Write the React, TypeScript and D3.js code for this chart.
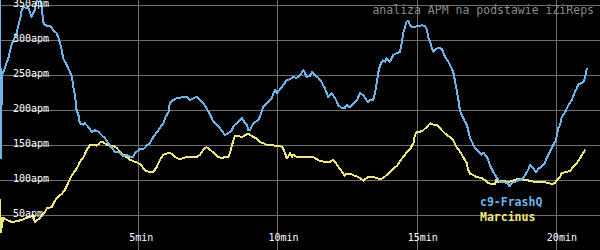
import React from "react";
import * as d3 from "d3";

// time in seconds, values in APM
const blueName = "c9-FrashQ";
const blueTime = [0, 2, 4, 9, 14, 18, 22, 25, 29, 32, 36, 39, 43, 47, 50, 58, 61, 65, 68, 72, 75, 78, 82, 86, 90, 93, 97, 108, 115, 122, 126, 129, 133, 136, 140, 144, 151, 155, 158, 162, 165, 169, 172, 180, 183, 190, 198, 205, 212, 219, 226, 233, 241, 248, 259, 266, 273, 280, 287, 291, 296, 302, 309, 316, 323, 330, 341, 352, 356, 363, 366, 373, 381, 402, 409, 417, 424, 431, 438, 445, 453, 460, 467, 474, 485, 492, 499, 503, 506, 514, 521, 524, 528, 532, 535, 539, 542, 546, 550, 557, 560, 567, 575, 582, 586, 589, 593, 596, 603, 611, 618, 625, 632, 639, 647, 654, 657, 661, 668, 672, 679, 686, 693, 700, 707, 715, 722, 729, 736, 743, 747, 754, 761, 769, 776, 783, 790, 794, 797, 804, 808, 812, 815, 819, 825, 830, 833, 837, 840, 844, 848, 855, 862, 866, 869, 873, 876, 880, 884, 887, 894, 901, 909, 916, 920, 923, 927, 930, 934, 937, 945, 952, 955, 959, 966, 973, 977, 981, 984, 988, 991, 995, 998, 1002, 1006, 1009, 1013, 1020, 1027, 1034, 1038, 1042, 1049, 1052, 1056, 1063, 1070, 1078, 1085, 1092, 1098, 1103, 1110, 1117, 1124, 1128, 1138, 1142, 1149, 1155, 1160, 1167, 1174, 1178, 1185, 1192, 1198, 1203, 1207, 1210, 1218, 1225, 1232, 1239, 1243, 1246, 1254, 1257, 1261, 1264, 1266];
const blueApm = [420, 131, 250, 257, 267, 274, 286, 293, 300, 304, 310, 319, 329, 343, 347, 346, 347, 339, 333, 339, 343, 353, 361, 361, 346, 326, 321, 320, 314, 310, 303, 296, 286, 274, 269, 264, 254, 247, 233, 219, 200, 193, 181, 179, 181, 176, 169, 171, 169, 164, 160, 153, 146, 140, 139, 134, 136, 133, 133, 139, 141, 144, 144, 149, 153, 161, 171, 181, 189, 197, 210, 214, 217, 219, 214, 217, 219, 214, 210, 203, 193, 183, 179, 174, 164, 167, 171, 176, 179, 183, 189, 186, 181, 179, 171, 171, 176, 181, 183, 186, 190, 204, 210, 214, 217, 224, 229, 224, 229, 236, 243, 244, 247, 246, 250, 257, 253, 247, 249, 254, 250, 246, 240, 231, 219, 224, 217, 207, 203, 203, 207, 204, 209, 214, 224, 221, 214, 211, 214, 214, 224, 239, 253, 264, 271, 269, 274, 271, 269, 274, 279, 281, 283, 297, 310, 319, 326, 327, 321, 319, 319, 320, 321, 320, 314, 304, 297, 290, 283, 286, 289, 287, 283, 276, 269, 260, 253, 240, 229, 214, 200, 193, 189, 183, 179, 171, 160, 150, 143, 139, 136, 139, 133, 129, 121, 111, 104, 97, 97, 96, 91, 96, 97, 100, 101, 103, 114, 121, 117, 111, 116, 119, 124, 131, 140, 150, 157, 174, 179, 189, 197, 207, 214, 226, 231, 236, 239, 240, 247, 257, 260];

const yellowName = "Marcinus";
const yellowTime = [0, 2, 7, 14, 25, 36, 47, 58, 65, 72, 75, 83, 90, 97, 101, 111, 119, 126, 133, 140, 147, 155, 162, 169, 172, 180, 187, 194, 201, 208, 212, 216, 223, 230, 237, 244, 251, 259, 266, 276, 280, 291, 302, 312, 323, 330, 338, 345, 352, 366, 373, 381, 388, 395, 402, 409, 424, 431, 438, 445, 453, 460, 470, 478, 485, 492, 496, 499, 503, 506, 514, 521, 528, 535, 542, 553, 560, 567, 575, 586, 593, 603, 609, 614, 618, 621, 625, 629, 632, 639, 647, 675, 682, 690, 700, 711, 718, 722, 729, 736, 743, 747, 754, 765, 776, 783, 790, 794, 804, 812, 819, 826, 833, 840, 848, 855, 862, 869, 876, 884, 891, 894, 898, 905, 912, 920, 927, 934, 941, 948, 955, 963, 970, 977, 984, 991, 998, 1006, 1009, 1013, 1020, 1027, 1038, 1045, 1052, 1060, 1067, 1069, 1074, 1085, 1095, 1106, 1113, 1124, 1131, 1142, 1153, 1164, 1171, 1182, 1189, 1196, 1200, 1207, 1210, 1218, 1228, 1236, 1243, 1250, 1257, 1261];
const yellowApm = [73, 26, 46, 43, 40, 41, 43, 46, 47, 50, 40, 44, 49, 54, 60, 61, 71, 77, 80, 86, 96, 107, 113, 121, 126, 133, 143, 150, 150, 149, 151, 154, 154, 150, 149, 149, 146, 140, 136, 131, 129, 126, 123, 114, 111, 111, 119, 129, 136, 139, 136, 131, 130, 131, 133, 133, 133, 136, 143, 147, 143, 139, 133, 131, 133, 133, 139, 147, 157, 163, 163, 161, 164, 166, 163, 159, 154, 153, 150, 150, 149, 149, 146, 139, 131, 133, 139, 133, 136, 133, 133, 133, 130, 127, 126, 126, 129, 126, 119, 113, 106, 109, 109, 106, 103, 99, 103, 104, 104, 103, 101, 103, 107, 111, 117, 120, 127, 133, 139, 144, 153, 164, 169, 169, 171, 176, 181, 179, 179, 174, 169, 164, 161, 156, 147, 141, 133, 124, 114, 109, 107, 104, 103, 100, 96, 94, 94, 100, 97, 99, 97, 99, 101, 101, 100, 99, 97, 97, 97, 96, 94, 96, 100, 104, 110, 111, 113, 119, 124, 131, 139, 143];

const yTicks = [50, 100, 150, 200, 250, 300, 350];
const xTicks = [300, 600, 900, 1200];
const xTickLabels = ["5min", "10min", "15min", "20min"];
const title = "analiza APM na podstawie iZiReps";

const W = 600;
const H = 250;
const BLUE = "#6cb6ec";
const YELLOW = "#eee878";
const GRID = "#6e6e6e";
const MONO = "'DejaVu Sans Mono', 'Liberation Mono', monospace";

export default function App() {
  const x = d3.scaleLinear().domain([0, 1293]).range([0, W]);
  const y = d3.scaleLinear().domain([0, 250 / 0.7]).range([H, 0]);

  const line = d3
    .line<[number, number]>()
    .x((d) => x(d[0]))
    .y((d) => y(d[1]));

  const bluePts = blueTime.map((t, i) => [t, blueApm[i]] as [number, number]);
  const yellowPts = yellowTime.map((t, i) => [t, yellowApm[i]] as [number, number]);

  return (
    <svg
      width={W}
      height={H}
      style={{ position: "fixed", left: 0, top: 0, background: "#000" }}
    >
      <defs>
        <clipPath id="plot">
          <rect x={0} y={0} width={W} height={H} />
        </clipPath>
      </defs>
      <rect x={0} y={0} width={W} height={H} fill="#000" />
      <g shapeRendering="crispEdges">
        {yTicks.map((v) => (
          <line key={"h" + v} x1={0} x2={W} y1={Math.round(y(v)) + 0.5} y2={Math.round(y(v)) + 0.5} stroke={GRID} strokeWidth={1} />
        ))}
        {xTicks.map((t) => (
          <line key={"v" + t} x1={Math.round(x(t)) - 0.5} x2={Math.round(x(t)) - 0.5} y1={0} y2={H} stroke={GRID} strokeWidth={1} />
        ))}
      </g>
      <g clipPath="url(#plot)" fill="none" strokeWidth={2} strokeLinejoin="round" shapeRendering="crispEdges">
        <path d={line(yellowPts) || ""} stroke={YELLOW} />
        <path d={line(bluePts) || ""} stroke={BLUE} />
      </g>
      <g fontFamily={MONO} fontSize={10} fill="#fff">
        {yTicks.map((v) => (
          <text key={"yl" + v} x={13} y={y(v) + 1.5}>
            {v}apm
          </text>
        ))}
        {xTicks.map((t, i) => (
          <text key={"xl" + t} x={x(t) - 10} y={241}>
            {xTickLabels[i]}
          </text>
        ))}
      </g>
      <text x={594} y={14} textAnchor="end" fontFamily={MONO} fontSize={11.5} fill="#8a8a8a">
        {title}
      </text>
      <g fontFamily={MONO} fontSize={11.5} fontWeight="bold">
        <text x={480} y={205.5} fill={BLUE}>{blueName}</text>
        <text x={480} y={220.5} fill={YELLOW}>{yellowName}</text>
      </g>
    </svg>
  );
}
